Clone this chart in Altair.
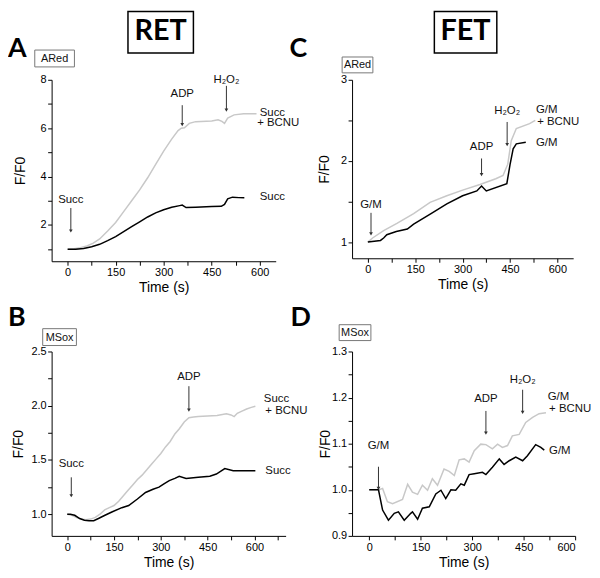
import altair as alt
import pandas as pd

# ---------------- data ----------------
# Panel A  (RET, ARed)
a_t_ctrl = [0, 25, 50, 75, 100, 125, 150, 175, 200, 225, 250, 275, 300, 325, 350, 358, 370, 400, 450, 480, 490, 500, 515, 535, 552]
a_v_ctrl = [1.0, 1.0, 1.03, 1.1, 1.2, 1.35, 1.52, 1.72, 1.93, 2.13, 2.33, 2.5, 2.63, 2.73, 2.8, 2.82, 2.72, 2.73, 2.76, 2.77, 2.85, 3.08, 3.15, 3.13, 3.12]
a_t_bcnu = [0, 20, 40, 60, 80, 100, 125, 150, 175, 200, 225, 250, 275, 300, 325, 345, 355, 365, 380, 400, 450, 470, 482, 490, 500, 520, 550, 590]
a_v_bcnu = [1.0, 1.02, 1.06, 1.13, 1.25, 1.42, 1.75, 2.1, 2.55, 3.0, 3.45, 3.95, 4.5, 5.05, 5.55, 5.9, 6.0, 6.02, 6.2, 6.27, 6.3, 6.35, 6.28, 6.2, 6.42, 6.55, 6.6, 6.6]

# Panel C  (FET, ARed)
c_t_ctrl = [0, 40, 50, 60, 90, 125, 145, 200, 250, 300, 345, 360, 375, 440, 450, 460, 470, 500]
c_v_ctrl = [1.0, 1.02, 1.05, 1.09, 1.13, 1.16, 1.22, 1.35, 1.47, 1.57, 1.63, 1.69, 1.63, 1.72, 1.95, 2.15, 2.21, 2.23]
c_t_bcnu = [0, 15, 50, 92, 145, 197, 250, 300, 355, 405, 428, 443, 454, 470, 512, 530]
c_v_bcnu = [1.0, 1.05, 1.14, 1.23, 1.35, 1.49, 1.57, 1.64, 1.71, 1.78, 1.82, 1.96, 2.25, 2.40, 2.46, 2.5]

# Panel B  (RET, MSox)
b_t_ctrl = [0, 10, 24, 40, 55, 70, 85, 100, 121, 143, 175, 197, 225, 251, 275, 294, 310, 327, 345, 359, 381, 420, 457, 478, 505, 532, 603]
b_v_ctrl = [1.0, 1.0, 0.99, 0.96, 0.945, 0.94, 0.94, 0.96, 0.99, 1.02, 1.06, 1.08, 1.14, 1.2, 1.23, 1.25, 1.28, 1.31, 1.33, 1.35, 1.33, 1.34, 1.35, 1.37, 1.42, 1.40, 1.40]
b_t_bcnu = [0, 15, 30, 45, 60, 75, 90, 105, 120, 135, 150, 165, 180, 195, 210, 225, 240, 255, 270, 285, 300, 315, 330, 345, 360, 375, 390, 405, 420, 450, 480, 510, 525, 535, 545, 560, 575, 590, 603]
b_v_bcnu = [1.0, 0.99, 0.97, 0.955, 0.95, 0.955, 0.97, 1.0, 1.04, 1.06, 1.08, 1.12, 1.17, 1.22, 1.27, 1.32, 1.36, 1.41, 1.46, 1.51, 1.56, 1.62, 1.67, 1.74, 1.79, 1.85, 1.89, 1.895, 1.9, 1.905, 1.91, 1.925, 1.915, 1.9, 1.93, 1.95, 1.97, 1.985, 1.995]

# Panel D  (FET, MSox)
d_t_ctrl = [0, 27, 39, 56, 73, 85, 102, 121, 126, 141, 155, 175, 194, 209, 223, 238, 252, 267, 277, 291, 306, 330, 340, 359, 379, 393, 408, 427, 447, 461, 485, 500, 510]
d_v_ctrl = [1.0, 1.0, 0.956, 0.934, 0.949, 0.952, 0.934, 0.949, 0.952, 0.936, 0.96, 0.963, 0.991, 0.999, 0.981, 1.0, 0.999, 1.013, 1.01, 1.033, 1.035, 1.038, 1.033, 1.049, 1.067, 1.055, 1.063, 1.071, 1.063, 1.074, 1.098, 1.092, 1.086]
d_t_bcnu = [0, 29, 39, 53, 68, 97, 112, 126, 141, 155, 170, 184, 199, 218, 233, 248, 262, 277, 291, 306, 325, 340, 359, 374, 388, 403, 417, 437, 456, 476, 495, 515]
d_v_bcnu = [1.0, 1.0, 1.003, 0.974, 0.97, 0.979, 1.012, 0.995, 0.99, 1.01, 0.999, 1.024, 1.01, 1.045, 1.04, 1.031, 1.065, 1.067, 1.06, 1.085, 1.099, 1.098, 1.089, 1.099, 1.092, 1.096, 1.117, 1.12, 1.146, 1.157, 1.165, 1.167]

# arrows: label, time, text y, arrow start y, arrow tip y
a_arrows = [("Succ", 10, 3.05, 2.7, 1.75), ("ADP", 358, 7.4, 6.95, 6.15), ("H₂O₂", 496, 8.0, 7.75, 6.75)]
c_arrows = [("G/M", 10, 1.46, 1.36, 1.1), ("ADP", 360, 2.17, 2.03, 1.83), ("H₂O₂", 441, 2.62, 2.48, 2.2)]
b_arrows = [("Succ", 13, 1.46, 1.34, 1.17), ("ADP", 390, 2.26, 2.18, 1.96)]
d_arrows = [("G/M", 27, 1.096, 1.05, 1.003), ("ADP", 340, 1.196, 1.171, 1.123), ("H₂O₂", 447, 1.239, 1.217, 1.168)]

# end labels: text, time, y
a_ends = [("Succ", 600, 6.64), ("+ BCNU", 592, 6.2), ("Succ", 600, 3.17)]
c_ends = [("G/M", 532, 2.63), ("+ BCNU", 536, 2.48), ("G/M", 532, 2.22)]
b_ends = [("Succ", 630, 2.06), ("+ BCNU", 635, 1.95), ("Succ", 635, 1.40)]
d_ends = [("G/M", 520, 1.201), ("+ BCNU", 524, 1.176), ("G/M", 524, 1.083)]

x_ticks = [0, 75, 150, 225, 300, 375, 450, 525, 600]
x_ticks_b = x_ticks + [675]
a_yticks = [1, 2, 3, 4, 5, 6, 7, 8]
c_yticks = [1, 1.5, 2, 2.5, 3]
b_yticks = [1.0, 1.25, 1.5, 1.75, 2.0, 2.25, 2.5]
d_yticks = [0.9, 0.95, 1.0, 1.05, 1.1, 1.15, 1.2, 1.25, 1.3]

GRAY = "#c8c8c8"
FONT = "Liberation Sans"
one = pd.DataFrame({"k": [0]})


def panel(ctrl, bcnu, xdom, ydom, xt, yt, ylabexpr, w, h, ytx, arrows, ends,
          letter, letter_x, letter_y, tag, tag_box, header=None):
    sx = alt.Scale(domain=xdom, nice=False, zero=False)
    sy = alt.Scale(domain=ydom, nice=False, zero=False)
    xax = alt.Axis(values=xt, labelExpr="datum.value % 150 === 0 ? datum.label : ''",
                   title="Time (s)", titlePadding=3, titleFontWeight="normal", format="d")
    yax = alt.Axis(values=yt, labelExpr=ylabexpr, title="F/F0", titleX=ytx, titleY=h / 2,
                   titleFontWeight="normal")

    def X(f):
        return alt.X(f, scale=sx, axis=xax)

    def Y(f):
        return alt.Y(f, scale=sy, axis=yax)

    df_c = pd.DataFrame({"t": ctrl[0], "v": ctrl[1]})
    df_b = pd.DataFrame({"t": bcnu[0], "v": bcnu[1]})
    gray = alt.Chart(df_b).mark_line(color=GRAY, strokeWidth=1.5).encode(x=X("t:Q"), y=Y("v:Q"))
    black = alt.Chart(df_c).mark_line(color="black", strokeWidth=1.5).encode(x=X("t:Q"), y=Y("v:Q"))
    dfa = pd.DataFrame(arrows, columns=["lab", "t", "ty", "y1", "y2"])
    rule = alt.Chart(dfa).mark_rule(color="#333", strokeWidth=1).encode(
        x=X("t:Q"), y=Y("y1:Q"), y2="y2:Q")
    tip = alt.Chart(dfa).mark_point(shape="triangle-down", filled=True, color="#333", size=14, opacity=1).encode(
        x=X("t:Q"), y=Y("y2:Q"))
    atxt = alt.Chart(dfa).mark_text(font=FONT, fontSize=11.5, color="#111", baseline="middle").encode(
        x=X("t:Q"), y=Y("ty:Q"), text="lab:N")
    dfe = pd.DataFrame(ends, columns=["lab", "t", "v"])
    etxt = alt.Chart(dfe).mark_text(font=FONT, fontSize=11.5, color="#111", align="left", baseline="middle").encode(
        x=X("t:Q"), y=Y("v:Q"), text="lab:N")
    let = alt.Chart(one).mark_text(font="Lato", fontWeight="bold", fontSize=27, align="left",
                                   baseline="alphabetic", color="black").encode(
        x=alt.value(letter_x), y=alt.value(letter_y), text=alt.value(letter))
    bx0, bx1, by0, by1 = tag_box
    tbox = alt.Chart(one).mark_rect(fill="white", stroke="#777", strokeWidth=1).encode(
        x=alt.value(bx0), x2=alt.value(bx1), y=alt.value(by0), y2=alt.value(by1))
    ttxt = alt.Chart(one).mark_text(font=FONT, fontSize=11, align="center", baseline="middle", color="#111").encode(
        x=alt.value((bx0 + bx1) / 2), y=alt.value((by0 + by1) / 2 + 0.5), text=alt.value(tag))
    layers = [gray, black, rule, tip, atxt, etxt, let, tbox, ttxt]
    if header is not None:
        htext, hx0, hx1, hy0, hy1 = header
        hbox = alt.Chart(one).mark_rect(fill="white", stroke="black", strokeWidth=1.5).encode(
            x=alt.value(hx0), x2=alt.value(hx1), y=alt.value(hy0), y2=alt.value(hy1))
        htxt = alt.Chart(one).mark_text(font="Lato", fontWeight="bold", fontSize=29, align="center",
                                        baseline="alphabetic", color="black").encode(
            x=alt.value((hx0 + hx1) / 2), y=alt.value(hy1 - 13), text=alt.value(htext))
        layers += [hbox, htxt]
    return alt.layer(*layers).properties(width=w, height=h)


pA = panel((a_t_ctrl, a_v_ctrl), (a_t_bcnu, a_v_bcnu), [-50, 650], [0.5, 8], x_ticks, a_yticks,
           "datum.value % 2 === 0 ? format(datum.value, 'd') : ''", 226, 183, -24, a_arrows, a_ends,
           "A", -44, -23, "ARed", (-17, 23, -30, -13), header=("RET", 77, 143, -69, -27))
pC = panel((c_t_ctrl, c_v_ctrl), (c_t_bcnu, c_v_bcnu), [-50, 650], [0.8, 3], x_ticks, c_yticks,
           "datum.value % 1 === 0 ? format(datum.value, 'd') : ''", 223, 180, -21, c_arrows, c_ends,
           "C", -63, -23, "ARed", (-10, 21, -23, -7), header=("FET", 83, 146, -69, -27))
pB = panel((b_t_ctrl, b_v_ctrl), (b_t_bcnu, b_v_bcnu), [-50, 700], [0.8, 2.5], x_ticks_b, b_yticks,
           "round(datum.value * 100) % 50 === 0 ? format(datum.value, '.1f') : ''", 236, 186, -26, b_arrows, b_ends,
           "B", -44, -26, "MSox", (-9, 25, -23, -6))
pD = panel((d_t_ctrl, d_v_ctrl), (d_t_bcnu, d_v_bcnu), [-50, 600], [0.9, 1.3], x_ticks, d_yticks,
           "round(datum.value * 100) % 10 === 0 ? format(datum.value, '.1f') : ''", 225, 186, -20, d_arrows, d_ends,
           "D", -62, -26, "MSox", (-13, 19, -27, -11))

chart = alt.concat(pA, pC, pB, pD, columns=2, bounds="flush",
                   spacing=alt.RowColnumber(row=91, column=67)).properties(padding=0).configure_view(
    stroke=None
).configure_axis(
    grid=False, domainColor="black", tickColor="black", labelColor="black", titleColor="black",
    labelFont=FONT, titleFont=FONT, labelFontSize=11, titleFontSize=14, titleFontWeight="normal",
    tickSize=4, labelPadding=1.5, domainWidth=1, tickWidth=1
)

chart.save("out.html", embed_options={"renderer": "svg", "actions": False})
